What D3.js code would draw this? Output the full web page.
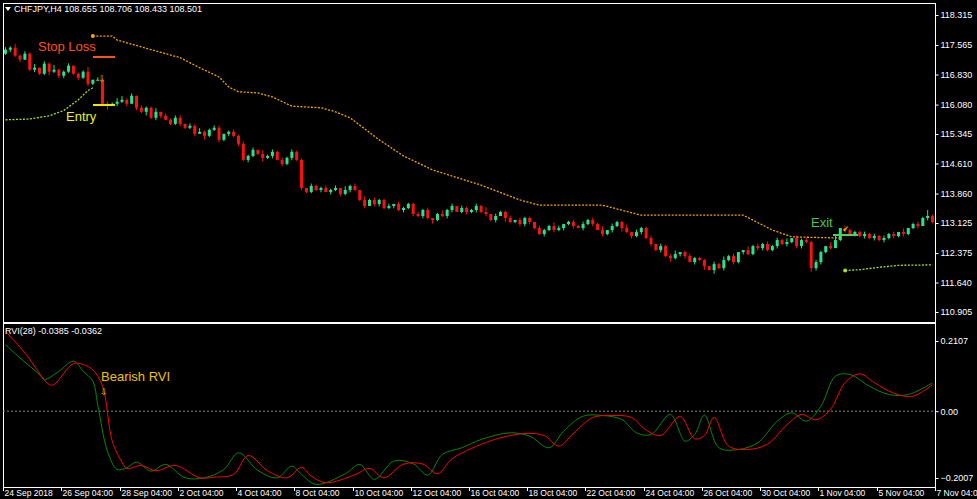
<!DOCTYPE html>
<html><head><meta charset="utf-8">
<script src="https://cdn.jsdelivr.net/npm/d3@7"></script>
<style>
body{margin:0;background:#000;}
svg{display:block;font-family:"Liberation Sans",Arial,sans-serif;}
</style></head>
<body><svg width="977" height="499"></svg>
<script>
// === Data

// H4 closes, 12 bars per row (two trading days)
const CLOSES = [
  117.45,117.5,117.3,117.2,117.35,116.95,117.0,116.85,117.1,116.9,116.95,116.8,
  116.9,117.05,116.85,116.75,116.9,116.6,116.7,116.7,116.1,116.05,116.1,116.15,
  116.2,116.1,116.3,116.0,115.9,116.0,115.75,115.9,115.8,115.7,115.6,115.75,
  115.6,115.5,115.55,115.35,115.4,115.3,115.45,115.5,115.2,115.35,115.4,115.3,
  115.1,114.7,114.8,114.95,114.85,114.75,114.8,114.9,114.7,114.6,114.75,114.9,
  114.7,114.0,113.9,114.05,113.95,114.0,113.9,113.95,114.0,113.85,113.95,114.05,
  113.95,113.7,113.55,113.7,113.6,113.7,113.5,113.55,113.6,113.45,113.5,113.6,
  113.35,113.3,113.45,113.25,113.2,113.35,113.3,113.45,113.55,113.4,113.5,113.4,
  113.45,113.55,113.4,113.35,113.2,113.3,113.4,113.25,113.15,113.2,113.1,113.25,
  113.15,113.0,112.85,112.95,113.05,112.95,113.0,113.1,113.15,113.05,113.0,113.1,
  113.2,113.1,112.95,112.85,112.95,113.05,113.15,113.0,112.9,112.8,112.9,113.0,
  112.75,112.6,112.45,112.55,112.3,112.25,112.35,112.4,112.3,112.15,112.25,112.2,
  112.05,111.95,112.1,112.0,112.2,112.3,112.15,112.4,112.45,112.35,112.55,112.5,
  112.6,112.45,112.55,112.7,112.6,112.65,112.75,112.55,112.7,112.65,112.0,112.15,
  112.4,112.55,112.5,112.7,113.0,112.95,112.85,112.9,112.8,112.85,112.75,112.8,
  112.7,112.75,112.85,112.8,112.9,112.85,113.0,113.1,113.05,113.25,113.3,113.15
];
const FIRST_OPEN = 117.35;
// wick lengths in units of 0.03
const WICK_UP = '213121302141' + '120114021213' + '312021130212' + '202131122012' +
  '121203121212' + '110211212031' + '203121120211' + '121201312021' +
  '121402112021' + '102113201212' + '121302113021' + '120212301211' +
  '102131200312' + '121213021212' + '103502111212' + '121203012151';
const WICK_DN = '121201211312' + '211212112302' + '120213122011' + '211203112121' +
  '212113120212' + '121112021212' + '112022112121' + '212131122012' +
  '121212031122' + '211212121202' + '120212131212' + '121213122021' +
  '303121212112' + '211212122132' + '211012121212' + '121212112021';

const PRICE_TICKS = [118.315, 117.565, 116.830, 116.080, 115.345, 114.610, 113.860, 113.125, 112.375, 111.640, 110.905];
const RVI_TICKS = [0.2107, 0.00, -0.2007];
const DATE_LABELS = ['24 Sep 2018', '26 Sep 04:00', '28 Sep 04:00', '2 Oct 04:00', '4 Oct 04:00', '8 Oct 04:00',
  '10 Oct 04:00', '12 Oct 04:00', '16 Oct 04:00', '18 Oct 04:00', '22 Oct 04:00', '24 Oct 04:00',
  '26 Oct 04:00', '30 Oct 04:00', '1 Nov 04:00', '5 Nov 04:00', '7 Nov 04:00'];

// trailing stops [bar, price]
const STOP_SHORT = [[18,117.79],[22,117.79],[23,117.69],[30,117.45],[36,117.25],[40,117.0],[44,116.77],[46,116.52],[48,116.4],[52,116.37],[55,116.27],[59,116.04],[65,116.0],[68,115.9],[71,115.75],[77,115.2],[82,114.8],[88,114.45],[98,114.07],[106,113.7],[110,113.57],[123,113.57],[131,113.32],[152,113.32],[158,112.95],[162,112.78],[172,112.75]];
const STOP_LONG = [[0,115.7],[5,115.72],[9,115.8],[12,115.93],[15,116.2],[17,116.43],[18,116.5]];
const STOP_LONG2 = [[173,111.94],[176,111.96],[180,112.02],[184,112.07],[191,112.08]];

// RVI main (green) and signal (red), [bar, value]
const RVI_MAIN = [[0,0.2],[3,0.16],[7,0.11],[8,0.095],[11,0.12],[14,0.15],[16,0.12],[18,0.09],[19,0.02],[21,-0.12],[23,-0.175],[25,-0.17],[27,-0.153],[30,-0.18],[33,-0.16],[37,-0.2],[41,-0.2],[45,-0.175],[48,-0.125],[52,-0.178],[56,-0.2],[59,-0.165],[61,-0.19],[64,-0.22],[70,-0.188],[73,-0.16],[76,-0.205],[80,-0.15],[84,-0.158],[87,-0.192],[90,-0.13],[94,-0.11],[98,-0.085],[104,-0.065],[108,-0.075],[112,-0.11],[115,-0.06],[119,-0.015],[123,-0.013],[127,-0.025],[130,-0.065],[133,-0.07],[137,-0.01],[140,-0.09],[142,-0.07],[144,-0.012],[147,-0.11],[151,-0.115],[155,-0.095],[159,-0.03],[162,-0.005],[165,-0.03],[168,0.015],[171,0.105],[174,0.11],[178,0.075],[182,0.05],[186,0.05],[191,0.085]];
const RVI_SIGNAL = [[0,0.24],[4,0.175],[9,0.08],[10,0.08],[14,0.143],[16,0.14],[18,0.124],[20,0.075],[22,-0.09],[24,-0.153],[25,-0.172],[28,-0.163],[31,-0.179],[35,-0.163],[40,-0.2],[43,-0.198],[47,-0.19],[50,-0.133],[54,-0.179],[58,-0.2],[61,-0.169],[63,-0.195],[66,-0.215],[72,-0.191],[75,-0.172],[78,-0.2],[82,-0.159],[86,-0.159],[89,-0.188],[92,-0.143],[96,-0.112],[100,-0.089],[102,-0.08],[107,-0.067],[111,-0.073],[114,-0.105],[117,-0.067],[121,-0.019],[125,-0.013],[129,-0.019],[132,-0.057],[135,-0.073],[139,-0.016],[142,-0.083],[144,-0.073],[146,-0.019],[149,-0.105],[153,-0.115],[157,-0.099],[161,-0.041],[164,-0.01],[167,-0.026],[170,0.006],[173,0.086],[176,0.112],[179,0.086],[183,0.054],[187,0.045],[191,0.08]];

// === Build bars

const bars = CLOSES.map((c, i) => {
  const o = i === 0 ? FIRST_OPEN : CLOSES[i - 1];
  return {
    i, o, c,
    h: Math.max(o, c) + (+WICK_UP[i]) * 0.03,
    l: Math.min(o, c) - (+WICK_DN[i]) * 0.03
  };
});

// === Layout

const LEFT = 3, RIGHT = 935, TOP = 3, SEP = 323, BOTTOM = 487;
const BULL = '#22e58c', BEAR = '#ff1010';

const svg = d3.select('svg');
svg.append('rect').attr('width', 977).attr('height', 499).attr('fill', '#000');

const x = d3.scaleBand().domain(d3.range(CLOSES.length)).range([LEFT, RIGHT]).paddingInner(0.38).paddingOuter(0.2);
const xc = i => x(i) + x.bandwidth() / 2;
const y = d3.scaleLinear().domain([110.905, 118.315]).range([312, 15]);
const yr = d3.scaleLinear().domain([-0.2007, 0.2107]).range([478, 341]);

// frames
svg.append('rect').attr('x', LEFT + 0.5).attr('y', TOP + 0.5).attr('width', RIGHT - LEFT).attr('height', BOTTOM - TOP)
  .attr('fill', 'none').attr('stroke', '#fff');
svg.append('line').attr('x1', LEFT).attr('x2', RIGHT + 1).attr('y1', SEP).attr('y2', SEP).attr('stroke', '#fff').attr('stroke-width', 2);

// price axis
const pa = svg.append('g').attr('transform', `translate(${RIGHT + 0.5},0)`)
  .call(d3.axisRight(y).tickValues(PRICE_TICKS).tickSize(3).tickFormat(d3.format('.3f')));
const ra = svg.append('g').attr('transform', `translate(${RIGHT + 0.5},0)`)
  .call(d3.axisRight(yr).tickValues(RVI_TICKS).tickSize(3).tickFormat(d => d === 0 ? '0.00' : d3.format('.4f')(d)));
[pa, ra].forEach(g => {
  g.select('.domain').remove();
  g.selectAll('line').attr('stroke', '#fff');
  g.selectAll('text').attr('fill', '#fff').attr('font-size', 9).attr('x', 5);
});

// date axis (one label every 12 bars; the last falls just past the data)
const dg = svg.append('g').attr('font-size', 8.5).attr('fill', '#fff');
const x0 = x(0) - x.step() * x.paddingInner() / 2;
DATE_LABELS.forEach((t, k) => {
  const px = Math.round(x0 + k * 12 * x.step()) + 0.5;
  dg.append('line').attr('x1', px).attr('x2', px).attr('y1', BOTTOM).attr('y2', BOTTOM + 4).attr('stroke', '#fff');
  dg.append('text').attr('x', px + 1).attr('y', BOTTOM + 9).attr('text-anchor', 'start').text(t);
});

// candles
const cg = svg.append('g');
cg.selectAll('line.wick').data(bars).enter().append('line')
  .attr('x1', d => xc(d.i)).attr('x2', d => xc(d.i))
  .attr('y1', d => y(d.h)).attr('y2', d => y(d.l))
  .attr('stroke', d => d.c >= d.o ? BULL : BEAR);
cg.selectAll('rect.body').data(bars).enter().append('rect')
  .attr('x', d => x(d.i)).attr('width', x.bandwidth())
  .attr('y', d => y(Math.max(d.o, d.c)))
  .attr('height', d => Math.max(1, y(Math.min(d.o, d.c)) - y(Math.max(d.o, d.c))))
  .attr('fill', d => d.c >= d.o ? BULL : BEAR);

// trailing stops
const line = d3.line().x(d => xc(d[0])).y(d => y(d[1]));
svg.append('path').attr('d', line(STOP_SHORT)).attr('fill', 'none').attr('stroke', '#f5a300').attr('stroke-width', 1.3).attr('stroke-dasharray', '2,1.5');
svg.append('circle').attr('cx', xc(STOP_SHORT[0][0])).attr('cy', y(STOP_SHORT[0][1])).attr('r', 2).attr('fill', '#f5a300');
[STOP_LONG, STOP_LONG2].forEach(s => {
  svg.append('path').attr('d', line(s)).attr('fill', 'none').attr('stroke', '#9be22b').attr('stroke-width', 1.3).attr('stroke-dasharray', '2,1.5');
});
svg.append('circle').attr('cx', xc(STOP_LONG2[0][0])).attr('cy', y(STOP_LONG2[0][1])).attr('r', 2).attr('fill', '#9be22b');

// annotations
svg.append('line').attr('x1', 93).attr('x2', 115).attr('y1', 57).attr('y2', 57).attr('stroke', '#ff4f1a').attr('stroke-width', 2);
svg.append('line').attr('x1', 93).attr('x2', 115).attr('y1', 105).attr('y2', 105).attr('stroke', '#e8e800').attr('stroke-width', 2);
svg.append('text').attr('x', 38).attr('y', 51).attr('fill', '#ff4f1a').attr('font-size', 13).text('Stop Loss');
svg.append('text').attr('x', 66).attr('y', 121).attr('fill', '#e8f020').attr('font-size', 13).text('Entry');
svg.append('text').attr('x', 98).attr('y', 82).attr('fill', '#e0a000').attr('font-size', 9).text('⇩');
svg.append('text').attr('x', 811).attr('y', 227).attr('fill', '#4cc44c').attr('font-size', 13).text('Exit');
svg.append('line').attr('x1', 833).attr('x2', 858).attr('y1', 235).attr('y2', 235).attr('stroke', '#4cd060').attr('stroke-width', 2);
svg.append('text').attr('x', 842).attr('y', 232).attr('fill', '#e8e800').attr('font-size', 9).text('✓');

// title
svg.append('path').attr('d', 'M5,7 L11,7 L8,11 Z').attr('fill', '#fff');
svg.append('text').attr('x', 14).attr('y', 12).attr('fill', '#fff').attr('font-size', 9).text('CHFJPY,H4  108.655 108.706 108.433 108.501');

// RVI pane
svg.append('line').attr('x1', LEFT).attr('x2', RIGHT).attr('y1', yr(0)).attr('y2', yr(0)).attr('stroke', '#888').attr('stroke-dasharray', '2,2');
const rline = d3.line().x(d => xc(d[0])).y(d => yr(d[1])).curve(d3.curveCatmullRom);
svg.append('path').attr('d', rline(RVI_MAIN)).attr('fill', 'none').attr('stroke', '#008a00');
svg.append('path').attr('d', rline(RVI_SIGNAL)).attr('fill', 'none').attr('stroke', '#ff0000');
svg.append('text').attr('x', 5).attr('y', 334).attr('fill', '#fff').attr('font-size', 9).text('RVI(28) -0.0385 -0.0362');
svg.append('text').attr('x', 101).attr('y', 381).attr('fill', '#f0c000').attr('font-size', 13).text('Bearish RVI');
svg.append('text').attr('x', 100).attr('y', 395).attr('fill', '#f0c000').attr('font-size', 9).text('⇩');
</script></body></html>
